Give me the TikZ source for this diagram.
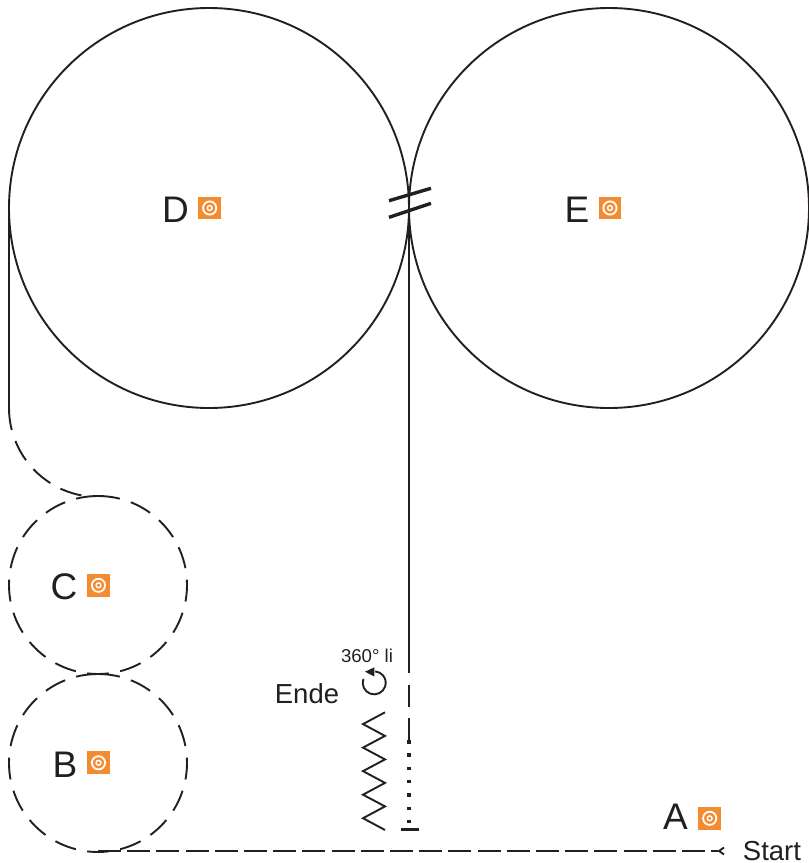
\documentclass[tikz,border=0pt]{standalone}
\usepackage{fontspec}
\setmainfont{Liberation Sans}
\definecolor{iconorange}{RGB}{243,139,48}
\definecolor{inkc}{RGB}{35,31,32}
\tikzset{
  x=1pt,y=-1pt,
  route/.style={draw=inkc,line width=1.9pt},
  dashroute/.style={route,dash pattern=on 22pt off 11.6pt},
  bar/.style={draw=inkc,line width=3.4pt},
  bigl/.style={inner sep=0,anchor=base,text=inkc,font=\fontsize{37}{37}\selectfont},
  midl/.style={inner sep=0,anchor=base,text=inkc,font=\fontsize{27.5}{27.5}\selectfont},
  smalll/.style={inner sep=0,anchor=base,text=inkc,font=\fontsize{18.6}{18.6}\selectfont},
  icon/.pic={
    \fill[iconorange] (-11.4,-11.4) rectangle (11.4,11.4);
    \draw[white,line width=1.8pt] (0,0) circle[radius=6.6];
    \draw[white,line width=1.4pt] (0,0) circle[radius=2.4];
  }
}
\begin{document}
\begin{tikzpicture}
\useasboundingbox (0,0) rectangle (809,863);
% large circles
\draw[route] (209,208) circle[radius=200];
\draw[route] (609,208) circle[radius=200];
% dashed circles, each half from the top (y axis points down, so top = -90)
\foreach \cy in {585,763}{
  \draw[dashroute] (98,\cy-89) arc[start angle=-90,end angle=90,radius=89];
  \draw[dashroute] (98,\cy-89) arc[start angle=-90,end angle=-270,radius=89];
}
% left connection
\coordinate (dl) at (9,208);
\coordinate (dm) at (9,408);
\coordinate (da) at (15.4,441);
\draw[route] (dl) -- (dm) arc[start angle=180,end angle=165.7,radius=89];
\draw[dashroute] (da) arc[start angle=158.2,end angle=99,radius=89];
% centre connection
\coordinate (vt) at (409,208);
\coordinate (v1) at (409,673);
\coordinate (v2a) at (409,685);
\coordinate (v2b) at (409,707);
\coordinate (v3a) at (409,718);
\coordinate (v3b) at (409,742);
\draw[route] (vt) -- (v1);
\draw[route] (v2a) -- (v2b);
\draw[route] (v3a) -- (v3b);
\foreach \yy in {742,755,768.3,781.7,795,808.3,821.7}
  \fill[inkc] (407.3,\yy-1.7) rectangle (410.9,\yy+1.7);
\draw[bar] (401,829.7) -- (418.7,829.7);
% break marks
\draw[bar] (389,200.7) -- (431,188.3);
\draw[bar] (389,217.3) -- (431,203.3);
% bottom start line
\coordinate (s0) at (98,851);
\coordinate (s1) at (718,851);
\draw[route,dash pattern=on 23pt off 6.2pt] (s0) -- (s1);
\draw[route,line join=miter] (724,847.5) -- (719,851) -- (724,854.5);
% zigzag
\draw[route,line join=miter] (385,712.3) -- (363,724.1) -- (385,735.9) -- (363,747.6) -- (385,759.4) -- (363,771.1) -- (385,782.9) -- (363,794.7) -- (385,806.4) -- (363,818.2) -- (385,830);
% rotation arrow
\coordinate (ra) at (363.4,678.9);
\draw[route] (ra) arc[start angle=200,end angle=-85,radius=11.5];
\fill[inkc] (365,671.7) -- (374.3,667.3) -- (374.3,676.5) -- cycle;
% labels
\node[bigl] (lD) at (175.5,222) {D};
\node[bigl] (lE) at (577,222) {E};
\node[bigl] (lC) at (64,599) {C};
\node[bigl] (lB) at (65,777) {B};
\node[bigl] (lA) at (675.5,829.3) {A};
\node[midl] (lS) at (772,860) {Start};
\node[midl] (lEnde) at (307,703) {Ende};
\node[smalll] (lR) at (367,662) {360° li};
% icons
\pic at (209.7,208) {icon};
\pic at (610,208) {icon};
\pic at (98.5,585.3) {icon};
\pic at (98.5,762.8) {icon};
\pic at (709.7,818.3) {icon};
\end{tikzpicture}
\end{document}
